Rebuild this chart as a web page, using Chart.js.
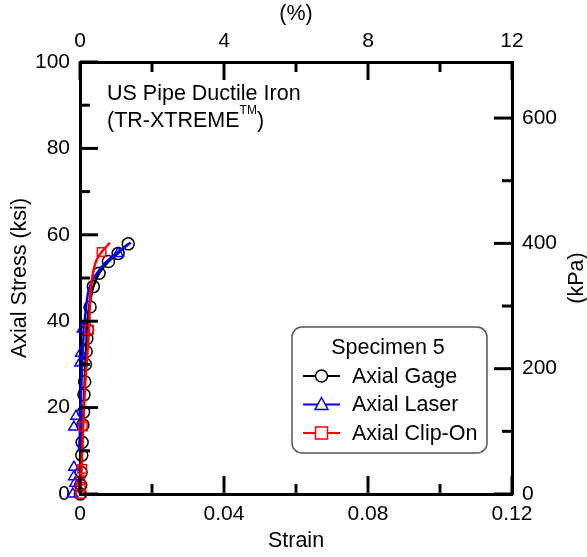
<!DOCTYPE html>
<html>
<head>
<meta charset="utf-8">
<script src="https://cdn.jsdelivr.net/npm/chart.js@4"></script>
<style>
  html, body { margin: 0; padding: 0; background: #fff; }
  #chart { display: block; }
</style>
</head>
<body>
<canvas id="chart" width="587" height="557"></canvas>
<script>
// Axial Gage (strain, ksi)
const gageStrain = [0, 0.0002, 0.0005, 0.0008, 0.001, 0.0013, 0.0015, 0.0018, 0.002, 0.0024, 0.0029, 0.0037, 0.0053, 0.0079, 0.0106, 0.0134];
const gageStress = [0, 5, 10, 16, 20, 26, 30, 35, 39, 42.5, 45, 48, 51.1, 53.8, 55.8, 57.9];
const gageMarkStrain = [0.0001, 0.0002, 0.0003, 0.0005, 0.0006, 0.0008, 0.001, 0.0011, 0.0013, 0.0015, 0.0017, 0.0019, 0.0021, 0.0028, 0.0037, 0.0053, 0.0079, 0.0106, 0.0134];
const gageMarkStress = [0, 2, 5, 9, 12, 16, 19, 23, 26, 30, 33, 36, 38, 43.3, 48, 51.1, 53.8, 55.7, 57.9];

// Axial Laser
const laserStrain = [-0.0018, -0.0012, -0.0008, -0.0003, 0, 0.0002, 0.0005, 0.0009, 0.0013, 0.0018, 0.0025, 0.0042, 0.007, 0.0106, 0.0141];
const laserStress = [0, 3, 6, 10, 15, 20, 28, 35, 40, 44, 47.5, 50.5, 53.5, 56, 58.2];
const laserMarkStrain = [-0.002, -0.0023, -0.0014, -0.0017, -0.0023, -0.0017, -0.0017, -0.0011, 0, 0.0002, 0.0007, 0.0106];
const laserMarkStress = [0, 1, 2.5, 4, 5.6, 6.2, 15.5, 18, 30.3, 32.6, 38.2, 55.7];

// Axial Clip-On
const clipStrain = [0.0002, 0.0004, 0.0009, 0.0015, 0.0025, 0.0028, 0.0032, 0.0037, 0.0045, 0.006, 0.0083];
const clipStress = [0, 5, 16, 26, 38, 45, 49, 51.5, 54, 56, 58.2];
const clipMarkStrain = [0.0001, 0.0002, 0.0001, 0.0006, 0.0008, 0.0025, 0.006];
const clipMarkStress = [0, 1.6, 3.2, 5.8, 15.7, 38, 56];

// axes
const strainMax = 0.12;
const stressMax = 100;
const percentMax = 12;
const mpaMax = 689.476;
const specimenName = 'Specimen 5';
const seriesNames = ['Axial Gage', 'Axial Laser', 'Axial Clip-On'];

const FONT = '"Liberation Sans", Arial, sans-serif';
const pts = (xs, ys) => xs.map((x, i) => ({ x: x, y: ys[i] }));

function lineSet(xs, ys, color) {
  return { data: pts(xs, ys), borderColor: color, borderWidth: 2.5, pointRadius: 0,
    showLine: true, tension: 0.3, fill: false, clip: false };
}
function markSet(xs, ys, color, style) {
  return { data: pts(xs, ys), borderColor: color, backgroundColor: 'rgba(0,0,0,0)',
    pointStyle: style, pointRadius: 6, pointBorderWidth: 1.5, showLine: false, clip: false };
}

const datasets = [
  markSet(clipMarkStrain, clipMarkStress, '#ff0000', 'rect'),
  lineSet(clipStrain, clipStress, '#ff0000'),
  markSet(laserMarkStrain, laserMarkStress, '#0000ff', 'triangle'),
  lineSet(laserStrain, laserStress, '#0000ff'),
  markSet(gageMarkStrain, gageMarkStress, '#000000', 'circle'),
  lineSet(gageStrain, gageStress, '#000000')
];

// inward tick marks, drawn from each scale's own ticks
const inwardTicks = {
  id: 'inwardTicks',
  afterDraw(chart) {
    const ctx = chart.ctx;
    const a = chart.chartArea;
    ctx.save();
    ctx.strokeStyle = '#000';
    ctx.lineWidth = 3;
    ['x', 'x2', 'y', 'y2'].forEach(id => {
      const s = chart.scales[id];
      s.ticks.forEach(t => {
        const len = t.label !== '' ? 18 : 10;
        const p = s.getPixelForValue(t.value);
        ctx.beginPath();
        if (id === 'x') { ctx.moveTo(p, a.bottom); ctx.lineTo(p, a.bottom - len); }
        if (id === 'x2') { ctx.moveTo(p, a.top); ctx.lineTo(p, a.top + len); }
        if (id === 'y') { ctx.moveTo(a.left, p); ctx.lineTo(a.left + len, p); }
        if (id === 'y2') { ctx.moveTo(a.right, p); ctx.lineTo(a.right - len, p); }
        ctx.stroke();
      });
    });

    // right axis title, reading bottom to top
    ctx.fillStyle = '#000';
    ctx.font = '21.5px ' + FONT;
    ctx.textAlign = 'center';
    ctx.textBaseline = 'middle';
    ctx.save();
    ctx.translate(577, (a.top + a.bottom) / 2);
    ctx.rotate(-Math.PI / 2);
    ctx.fillText('(kPa)', 0, 0);
    ctx.restore();

    // annotation
    ctx.textAlign = 'left';
    ctx.textBaseline = 'alphabetic';
    ctx.font = '21.5px ' + FONT;
    ctx.fillText('US Pipe Ductile Iron', 107, 100);
    let x = 107;
    ctx.fillText('(TR-XTREME', x, 127);
    x += ctx.measureText('(TR-XTREME').width;
    ctx.font = '12px ' + FONT;
    ctx.fillText('TM', x, 114);
    x += ctx.measureText('TM').width;
    ctx.font = '21.5px ' + FONT;
    ctx.fillText(')', x, 127);

    // legend box
    const bx = 292, by = 327, bw = 195, bh = 126, r = 10;
    ctx.beginPath();
    ctx.moveTo(bx + r, by);
    ctx.arcTo(bx + bw, by, bx + bw, by + bh, r);
    ctx.arcTo(bx + bw, by + bh, bx, by + bh, r);
    ctx.arcTo(bx, by + bh, bx, by, r);
    ctx.arcTo(bx, by, bx + bw, by, r);
    ctx.closePath();
    ctx.fillStyle = '#fff';
    ctx.fill();
    ctx.strokeStyle = '#555';
    ctx.lineWidth = 1.5;
    ctx.stroke();

    ctx.fillStyle = '#000';
    ctx.font = '21.5px ' + FONT;
    ctx.textAlign = 'center';
    ctx.textBaseline = 'middle';
    ctx.fillText(specimenName, 388, 348);

    const colors = ['#000000', '#0000ff', '#ff0000'];
    const styles = ['circle', 'triangle', 'rect'];
    seriesNames.forEach((name, i) => {
      const yy = 376 + i * 28.5;
      ctx.strokeStyle = colors[i];
      ctx.lineWidth = 2;
      ctx.beginPath(); ctx.moveTo(303, yy); ctx.lineTo(340, yy); ctx.stroke();
      ctx.lineWidth = 1.5;
      ctx.beginPath();
      if (styles[i] === 'circle') ctx.arc(321.5, yy, 6, 0, Math.PI * 2);
      if (styles[i] === 'triangle') { ctx.moveTo(321.5, yy - 7); ctx.lineTo(328, yy + 5); ctx.lineTo(315, yy + 5); ctx.closePath(); }
      if (styles[i] === 'rect') ctx.rect(315.5, yy - 6, 12, 12);
      ctx.fillStyle = '#fff'; ctx.fill(); ctx.stroke();
      ctx.fillStyle = '#000';
      ctx.textAlign = 'left';
      ctx.fillText(name, 352, yy + 1);
    });
    ctx.restore();
  }
};

const tickFont = { family: FONT, size: 21 };
const titleFont = { family: FONT, size: 21.5 };
const axisBorder = { display: true, width: 3, color: '#000' };
const noGrid = { display: false, drawTicks: false };

new Chart(document.getElementById('chart'), {
  type: 'scatter',
  data: { datasets: datasets },
  options: {
    responsive: false,
    animation: false,
    devicePixelRatio: 1,
    layout: { padding: 0 },
    plugins: { legend: { display: false }, tooltip: { enabled: false } },
    scales: {
      x: {
        type: 'linear', position: 'bottom', min: 0, max: strainMax,
        grid: noGrid, border: axisBorder,
        ticks: { stepSize: 0.02, color: '#000', font: tickFont, padding: 8, maxRotation: 0, autoSkip: false,
          callback: v => (Math.round(v * 100) % 4 === 0 ? (v === 0 ? '0' : v.toFixed(2)) : '') },
        title: { display: true, text: 'Strain', color: '#000', font: titleFont, padding: { top: 0, bottom: 3 } },
        afterFit: s => { s.height = 63; }
      },
      x2: {
        type: 'linear', position: 'top', min: 0, max: percentMax, display: true,
        grid: noGrid, border: axisBorder,
        ticks: { stepSize: 2, color: '#000', font: tickFont, padding: 8, maxRotation: 0, autoSkip: false,
          callback: v => (v % 4 === 0 ? String(v) : '') },
        title: { display: true, text: '(%)', color: '#000', font: titleFont, padding: { top: 1, bottom: 0 } },
        afterFit: s => { s.height = 62; }
      },
      y: {
        type: 'linear', position: 'left', min: 0, max: stressMax,
        grid: noGrid, border: axisBorder,
        ticks: { stepSize: 10, color: '#000', font: tickFont, padding: 10, autoSkip: false,
          callback: v => (v % 20 === 0 ? String(v) : '') },
        title: { display: true, text: 'Axial Stress (ksi)', color: '#000', font: titleFont, padding: { top: 7, bottom: 0 } },
        afterFit: s => { s.width = 80; }
      },
      y2: {
        type: 'linear', position: 'right', min: 0, max: mpaMax, display: true,
        grid: noGrid, border: axisBorder,
        ticks: { stepSize: 100, includeBounds: false, color: '#000', font: tickFont, padding: 10, autoSkip: false,
          callback: v => (v % 200 === 0 ? String(v) : '') },
        afterFit: s => { s.width = 75; }
      }
    }
  },
  plugins: [inwardTicks]
});
</script>
</body>
</html>
